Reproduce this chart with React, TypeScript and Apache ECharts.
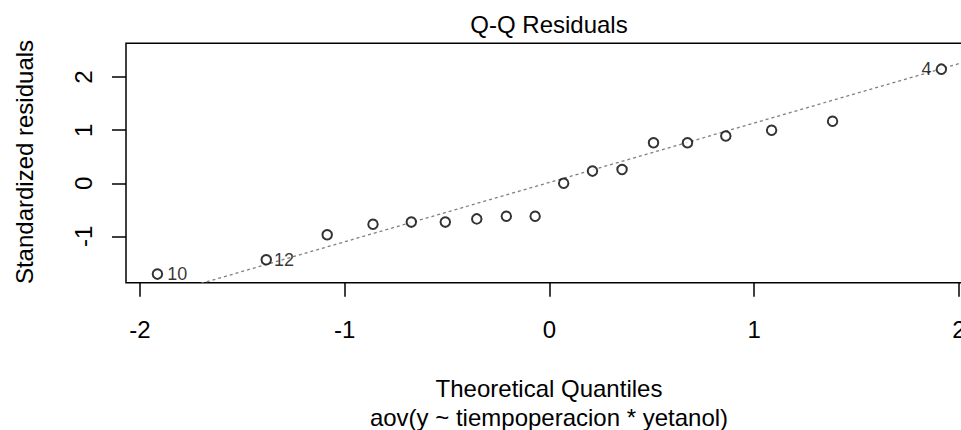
import React, { useEffect, useRef } from "react";
import * as echarts from "echarts";

// Theoretical normal quantiles (x) and standardized residuals (y)
const theoreticalQuantiles = [
  -1.9145, -1.383, -1.0853, -0.8616, -0.6745, -0.5085, -0.3548, -0.2104, -0.0697,
  0.0697, 0.2104, 0.3548, 0.5085, 0.6745, 0.8616, 1.0853, 1.383, 1.9145,
];
const standardizedResiduals = [
  -1.71, -1.44, -0.97, -0.77, -0.73, -0.73, -0.67, -0.62, -0.62,
  0.0, 0.23, 0.26, 0.765, 0.765, 0.89, 1.0, 1.17, 2.15,
];
const pointLabels = ["10", "12", "", "", "", "", "", "", "", "", "", "", "", "", "", "", "", "4"];
const labelSides = ["right", "right", "", "", "", "", "", "", "", "", "", "", "", "", "", "", "", "left"];

const xTickValues = [-2, -1, 0, 1, 2];
const yTickValues = [-1, 0, 1, 2];

// Reference (qqline) intercept and slope
const qqIntercept = 0.017;
const qqSlope = 1.118;

const X_MIN = -2.068;
const X_MAX = 2.068;
const Y_MIN = -1.872;
const Y_MAX = 2.637;

const FONT = "'Liberation Sans', Arial, Helvetica, sans-serif";

export default function App() {
  const ref = useRef<HTMLDivElement>(null);

  useEffect(() => {
    document.body.style.margin = "0";
    const chart = echarts.init(ref.current as HTMLDivElement, null, { renderer: "svg" });

    const lineData = [
      [X_MIN, qqIntercept + qqSlope * X_MIN],
      [X_MAX, qqIntercept + qqSlope * X_MAX],
    ];

    const scatterData = theoreticalQuantiles.map((x, i) => ({
      value: [x, standardizedResiduals[i]],
      label: {
        show: pointLabels[i] !== "",
        formatter: pointLabels[i],
        position: labelSides[i] || "right",
        distance: labelSides[i] === "left" ? 4 : i === 1 ? 2 : 4,
        color: "#000000",
        fontSize: 18,
        fontFamily: FONT,
      },
    }));

    chart.setOption({
      animation: false,
      backgroundColor: "#ffffff",
      grid: {
        left: 126,
        top: 43.3,
        width: 846.8,
        height: 239.4,
        show: true,
        borderColor: "#000000",
        borderWidth: 1.5,
        backgroundColor: "transparent",
        containLabel: false,
        outerBoundsMode: "none",
      },
      xAxis: {
        type: "value",
        min: X_MIN,
        max: X_MAX,
        position: "bottom",
        axisLine: { show: false, onZero: false },
        splitLine: { show: false },
        axisTick: {
          show: true,
          inside: false,
          length: 14,
          customValues: xTickValues,
          lineStyle: { color: "#000000", width: 1.5 },
        },
        axisLabel: {
          customValues: xTickValues,
          margin: 35,
          fontSize: 24,
          fontFamily: FONT,
          color: "#000000",
          hideOverlap: false,
          formatter: (v: number) => String(v),
        },
      },
      yAxis: {
        type: "value",
        min: Y_MIN,
        max: Y_MAX,
        position: "left",
        axisLine: { show: false, onZero: false },
        splitLine: { show: false },
        axisTick: {
          show: true,
          inside: false,
          length: 14,
          customValues: yTickValues,
          lineStyle: { color: "#000000", width: 1.5 },
        },
        axisLabel: {
          customValues: yTickValues,
          rotate: 90,
          margin: 31,
          fontSize: 24,
          fontFamily: FONT,
          color: "#000000",
          formatter: (v: number) => String(v),
        },
      },
      series: [
        {
          type: "line",
          data: lineData,
          showSymbol: false,
          symbol: "none",
          silent: true,
          z: 1,
          lineStyle: { color: "#7f7f7f", width: 1.3, type: [3, 3] },
        },
        {
          type: "scatter",
          data: scatterData,
          symbol: "emptyCircle",
          symbolSize: 9.5,
          z: 2,
          itemStyle: { color: "#000000", borderColor: "#000000", borderWidth: 1.5 },
          label: {
            fontSize: 18,
            fontFamily: FONT,
            color: "#000000",
          },
        },
      ],
      graphic: [
        {
          type: "text",
          x: 549,
          y: 24,
          style: {
            text: "Q-Q Residuals",
            fontSize: 24,
            fontFamily: FONT,
            fill: "#000000",
            textAlign: "center",
            textVerticalAlign: "middle",
          },
        },
        {
          type: "text",
          x: 549,
          y: 388.5,
          style: {
            text: "Theoretical Quantiles",
            fontSize: 24,
            fontFamily: FONT,
            fill: "#000000",
            textAlign: "center",
            textVerticalAlign: "middle",
          },
        },
        {
          type: "text",
          x: 549,
          y: 417.5,
          style: {
            text: "aov(y ~ tiempoperacion * yetanol)",
            fontSize: 24,
            fontFamily: FONT,
            fill: "#000000",
            textAlign: "center",
            textVerticalAlign: "middle",
          },
        },
        {
          type: "text",
          x: 24.5,
          y: 162,
          rotation: Math.PI / 2,
          style: {
            text: "Standardized residuals",
            fontSize: 24,
            fontFamily: FONT,
            fill: "#000000",
            textAlign: "center",
            textVerticalAlign: "middle",
          },
        },
      ],
    });

    return () => {
      chart.dispose();
    };
  }, []);

  return (
    <div
      ref={ref}
      style={{ position: "fixed", left: 0, top: 0, width: 961, height: 430, background: "#ffffff" }}
    />
  );
}
